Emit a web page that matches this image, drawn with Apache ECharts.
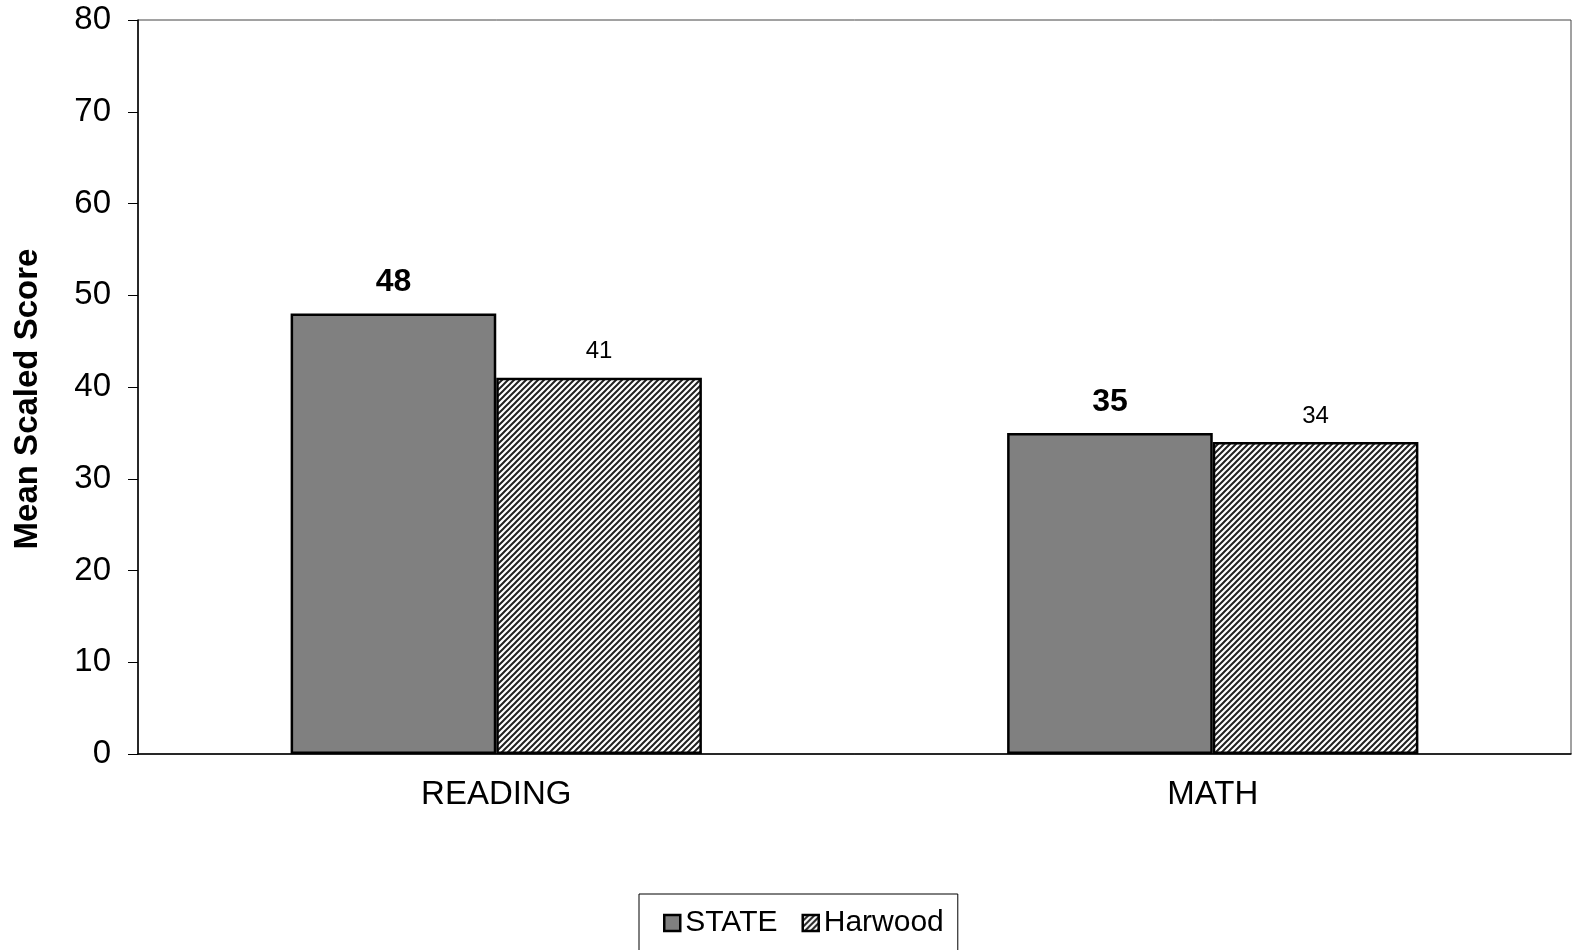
<!DOCTYPE html>
<html>
<head>
<meta charset="utf-8">
<script src="https://cdn.jsdelivr.net/npm/echarts@6/dist/echarts.min.js"></script>
<style>html,body{margin:0;padding:0;background:#fff;}#c{width:1577px;height:950px;}</style>
</head>
<body>
<div id="c"></div>
<script>
const categories = ['READING', 'MATH'];
const stateValues = [48, 35];
const harwoodValues = [41, 34];
const seriesNames = ['STATE', 'Harwood'];
const yTicks = [0, 10, 20, 30, 40, 50, 60, 70, 80];

function hatch() {
  const c = document.createElement('canvas');
  c.width = 6; c.height = 6;
  const g = c.getContext('2d');
  g.fillStyle = '#fff';
  g.fillRect(0, 0, 6, 6);
  g.strokeStyle = '#222';
  g.lineWidth = 2.0;
  g.beginPath();
  g.moveTo(-1, 7); g.lineTo(7, -1);
  g.moveTo(-4, 4); g.lineTo(4, -4);
  g.moveTo(2, 10); g.lineTo(10, 2);
  g.stroke();
  return c;
}

const font = 'Liberation Sans, Arial, sans-serif';
const chart = echarts.init(document.getElementById('c'));
chart.setOption({
  animation: false,
  backgroundColor: '#fff',
  textStyle: { fontFamily: font },
  grid: { left: 138, top: 20, right: 6, bottom: 196, show: true, borderColor: '#444', borderWidth: 1 },
  legend: {
    data: seriesNames,
    left: 639, top: 894,
    padding: [14, 14, 30, 24],
    borderColor: '#000', borderWidth: 1,
    icon: 'rect',
    itemWidth: 16, itemHeight: 16, itemGap: 24,
    textStyle: { fontSize: 30, color: '#000', fontFamily: font },
    itemStyle: { borderColor: '#000', borderWidth: 2.5 }
  },
  xAxis: {
    type: 'category', data: categories,
    axisLine: { lineStyle: { color: '#000', width: 1.5 } },
    axisTick: { inside: true, length: 10, lineStyle: { color: '#000' } },
    axisLabel: { fontSize: 33, color: '#000', margin: 24 }
  },
  yAxis: {
    type: 'value', min: yTicks[0], max: yTicks[yTicks.length - 1], interval: 10,
    name: 'Mean Scaled Score', nameLocation: 'middle', nameGap: 94,
    nameTextStyle: { fontSize: 33, fontWeight: 'bold', color: '#000', padding: [0, 0, 0, -24] },
    axisLine: { show: true, lineStyle: { color: '#000', width: 1.5 } },
    axisTick: { show: true, length: 10, lineStyle: { color: '#000' } },
    splitLine: { show: false },
    axisLabel: { fontSize: 33, color: '#000', margin: 27 }
  },
  series: [
    {
      name: seriesNames[0], type: 'bar', data: stateValues,
      barGap: '0%', barCategoryGap: '42.6%',
      itemStyle: { color: '#808080', borderColor: '#000', borderWidth: 2.5 },
      label: { show: true, position: 'top', distance: 15, fontSize: 32, fontWeight: 'bold', color: '#000' }
    },
    {
      name: seriesNames[1], type: 'bar', data: harwoodValues,
      itemStyle: { color: { image: hatch(), repeat: 'repeat' }, borderColor: '#000', borderWidth: 2.5 },
      label: { show: true, position: 'top', distance: 14, fontSize: 24, color: '#000', fontFamily: font }
    }
  ]
});
</script>
</body>
</html>
